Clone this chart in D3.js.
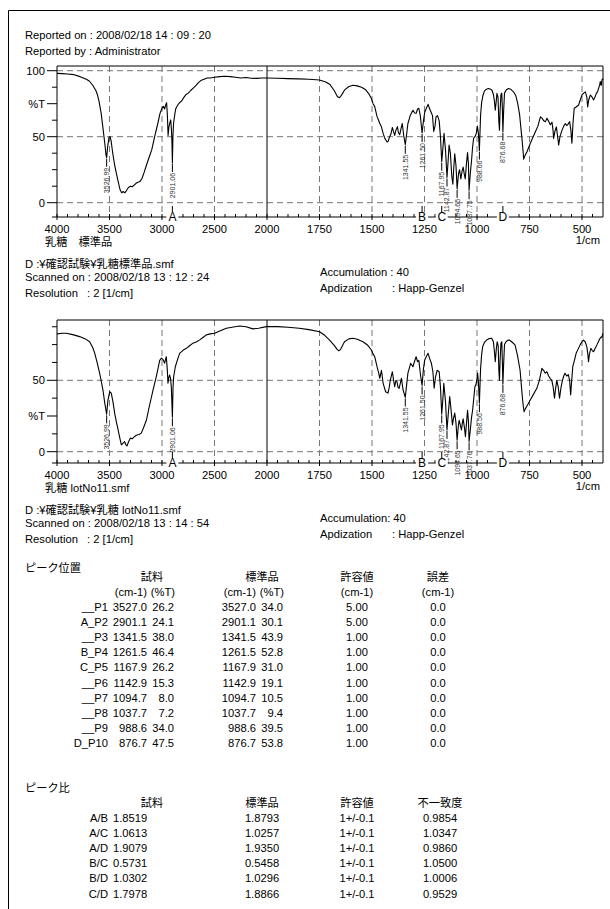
<!DOCTYPE html>
<html>
<head>
<meta charset="utf-8">
<script src="https://cdn.jsdelivr.net/npm/d3@7"></script>
<style>
  body { margin: 0; background: #fff; }
  text { font-family: "Liberation Sans", Arial, "Noto Sans CJK JP", sans-serif; fill: #000; }
</style>
</head>
<body>
<script>
// ---- data ----
const stdSpectrum = [
  [4000,98],[3950,97.8],[3900,97.5],[3838,97],[3780,95.5],[3720,93.5],[3690,92],[3660,89],[3630,85],
  [3616,82],[3600,77],[3580,68],[3560,55],[3545,45],[3533,36],[3527,34.0],[3518,42],[3505,49.5],[3495,50],
  [3485,47],[3470,38],[3450,28],[3420,17],[3400,10],[3384,7.5],[3370,8.5],[3355,7.5],[3340,9],[3320,11.5],
  [3300,12.5],[3285,12],[3270,13],[3250,14.5],[3230,15.5],[3210,16],[3190,18.5],[3170,23],[3150,28],
  [3120,35],[3098,40],[3070,50],[3040,60],[3019,67.7],[3000,71.5],[2987,73],[2975,71],[2965,74],[2956,75.7],
  [2948,65],[2942,51],[2935,57],[2927,60],[2917,62.7],[2910,55],[2905,45],[2901,30.1],[2896,50],[2890,60],
  [2880,66],[2870,71],[2850,74],[2830,76],[2813,77],[2790,80],[2770,82],[2750,83],[2727,85],[2700,87],
  [2680,88.5],[2653,91],[2630,92.5],[2600,93.5],[2570,94.5],[2540,94.5],[2500,95],[2450,95.5],[2400,95.8],
  [2350,95.5],[2300,95],[2250,94.5],[2200,94.8],[2150,94.3],[2100,94.2],[2050,94.5],[2000,94.5],[1950,94.3],
  [1900,94],[1850,93.8],[1800,93.5],[1750,93],[1720,91.5],[1700,89.5],[1680,85],[1665,80.5],[1655,79.5],
  [1645,81.5],[1630,85.5],[1610,88],[1590,89],[1570,88.5],[1550,87.5],[1530,85.5],[1515,82.5],[1503,79],
  [1495,75],[1487,72.8],[1476,65.2],[1470,63],[1463,60],[1455,57.5],[1447,52.5],[1439,48.7],[1428,46],
  [1423,46.5],[1416,50],[1410,52],[1403,57],[1398,54],[1392,51],[1386,55],[1379,57.6],[1374,53],[1368,51.5],
  [1362,56],[1356,60],[1349,51],[1341.5,43.9],[1335,52],[1329,60],[1318,66],[1310,68.5],[1305,70],[1297,68],
  [1290,67.7],[1283,71],[1277,71.5],[1270,66],[1261.5,52.8],[1255,62],[1249,68.5],[1240,72],[1233,74.5],
  [1225,71],[1217,68],[1212,66],[1206,54],[1200,58],[1195,65],[1188,66],[1180,62],[1174,50],[1167.9,31.0],
  [1162,42],[1157,52.5],[1150,40],[1142.9,19.1],[1137,33],[1133,43.7],[1127,38],[1120,20],[1115,14],
  [1110,28],[1106,37],[1100,28],[1094.7,10.5],[1088,22],[1083,25],[1077,18],[1071,24],[1066,27],[1061,22],
  [1056,18],[1050,30],[1045,38],[1041,30],[1037.7,9.4],[1032,22],[1026,32],[1021,42],[1016,49],[1010,50],
  [1004,52],[998,58],[993,52],[988.6,39.5],[983,66],[978,76],[972,81],[965,84.5],[955,86],[945,86.5],
  [935,86],[928,85],[922,82],[917,77],[913,70],[909,76],[905,82.8],[900,80],[896,62],[893,55],[890,70],
  [886,82],[882,83],[879,70],[876.7,53.8],[873,70],[869,83],[860,85.5],[850,86.5],[840,86],[826,84],
  [815,81],[806,75],[797,66.5],[790,55],[786,48.7],[780,38],[778,33],[772,35.5],[762,38.6],[746,45],
  [735,49],[722,53.8],[710,58],[698,65],[690,64],[682,62],[674,61.4],[667,64],[660,62],[651,59],[643,61],
  [638,55],[635,48.7],[629,54],[622,57.4],[616,50],[611,43.6],[605,50],[595,55],[587,58],[579,60],
  [573,58.5],[568,59],[559,61.4],[553,55],[548,45],[543,60],[537,71.5],[528,72.5],[516,74],[508,78],
  [500,81.6],[492,83],[484,84],[477,80],[473,72.5],[468,78],[460,81.6],[452,80],[445,77.8],[438,80],
  [432,82.8],[426,84],[421,86.6],[416,89],[413,91.7],[408,89],[405,93],[400,94]
];

const lotSpectrum = [
  [4000,82.5],[3950,83],[3911,83],[3850,82],[3784,80.6],[3730,79],[3689,77],[3660,73],[3641,69],[3620,63],
  [3594,55],[3575,48],[3562,43],[3545,34],[3527,26.2],[3515,36],[3498,42],[3483,41],[3465,34],[3451,27],
  [3435,21],[3419,15.6],[3400,9],[3387,4.7],[3370,6],[3356,7],[3345,5],[3334,4],[3318,7],[3302,9.5],
  [3285,9],[3270,10],[3245,11.5],[3220,12],[3197,13],[3175,17],[3149,22],[3120,32],[3086,43],[3050,54],
  [3022,64],[3005,65.5],[2990,64.5],[2975,62],[2959,66.5],[2950,58],[2943,48],[2935,52],[2927,53.7],
  [2918,51],[2911,45],[2901,24.1],[2895,45],[2889,52.5],[2873,59.5],[2850,65],[2832,68.9],[2800,71],
  [2768,72.4],[2740,74],[2705,76],[2670,77],[2641,78.3],[2610,80],[2578,81.8],[2540,82.5],[2498,83],
  [2450,84.5],[2387,86.4],[2320,87.3],[2260,88],[2200,87.5],[2133,86],[2080,86.5],[2006,87.6],[1950,87.6],
  [1900,87.2],[1847,86.4],[1800,85.5],[1750,84],[1725,81.5],[1702,78.2],[1680,74.5],[1665,71.5],[1658,70.7],
  [1650,71.5],[1631,77],[1610,79],[1591,79.4],[1570,78.8],[1543,77],[1520,74.5],[1503,71.2],[1495,68.5],
  [1487,66.5],[1476,59.5],[1468,55],[1463,51.4],[1455,57],[1447,47.9],[1435,42],[1424,41],[1418,45],
  [1413,50],[1403,56],[1397,50],[1392,45.5],[1386,50],[1381,49],[1376,45],[1371,44.4],[1365,48],[1360,51.4],
  [1352,43.2],[1341.5,38.0],[1335,47],[1329,55],[1316,61.9],[1305,59.5],[1298,63],[1290,66.5],[1283,63],
  [1277,64],[1269,53.7],[1261.5,46.4],[1255,58],[1249,64.2],[1240,67],[1233,68.9],[1225,65],[1217,61.9],
  [1210,56],[1204,44.4],[1198,52],[1190,57],[1180,56],[1174,45],[1167.9,26.2],[1162,38],[1158,47.9],
  [1150,35],[1142.9,15.3],[1136,28],[1130,38.6],[1124,30],[1117,18.8],[1111,24],[1106,27],[1100,20],
  [1094.7,8.0],[1089,18],[1085,22],[1080,19],[1074,15.2],[1070,20],[1066,23],[1060,17],[1055,10.5],
  [1050,20],[1045,29],[1041,22],[1037.7,7.2],[1032,15],[1026,24],[1021,29],[1015,38],[1010,45.5],[1005,47],
  [1002,49],[997,55],[993,48],[988.6,34.0],[983,58],[978,68],[973,73.6],[965,76.5],[954,78.2],[942,79.2],
  [930,79.4],[922,77],[917,70],[913,63],[908,72],[904,77],[899,74],[896,57],[893,50],[890,64],[886,76],
  [882,77],[879,62],[876.7,47.5],[873,62],[869,75],[864,76.5],[855,78],[846,78.2],[835,77],[819,74.8],
  [808,68],[795,57.2],[788,45],[782,35],[776,28],[770,30],[760,32.5],[747,36],[730,40.5],[715,44.4],
  [703,50],[691,58.4],[683,57],[675,55],[667,56],[659,53],[650,51],[644,50],[638,46],[631,37.4],[626,44],
  [620,50],[613,45],[607,37.4],[600,45],[593,50],[587,53],[581,55],[573,53],[565,54],[559,50],[554,39.8],
  [549,50],[544,59.5],[536,64],[528,68.9],[518,72],[509,74.8],[500,77],[493,78.2],[485,77],[477,73.6],
  [472,68],[469,63],[465,68],[458,72.4],[452,71],[445,70],[437,72.5],[429,74.8],[422,77],[414,79.4],
  [408,80.5],[405,80],[401,82.9]
];

const peakWn = [3527.0, 2901.1, 1341.5, 1261.5, 1167.9, 1142.9, 1094.7, 1037.7, 988.6, 876.7];
const stdPeakT = [34.0, 30.1, 43.9, 52.8, 31.0, 19.1, 10.5, 9.4, 39.5, 53.8];
const lotPeakT = [26.2, 24.1, 38.0, 46.4, 26.2, 15.3, 8.0, 7.2, 34.0, 47.5];
const stdPeakText = ["3526.99","2901.06","1341.55","1261.50","1167.95","1142.87","1094.65","1037.75","988.66","876.68"];
const lotPeakText = ["3526.99","2901.06","1341.55","1261.50","1167.95","1142.87","1094.65","1037.76","988.56","876.68"];

const markLetters = ["A", "B", "C", "D"];
const markWn = [2901.1, 1261.5, 1167.9, 876.7];

const xTickValues = [4000, 3500, 3000, 2500, 2000, 1750, 1500, 1250, 1000, 750, 500];
const xGridValues = [3500, 3000, 2500, 1750, 1500, 1250, 1000, 750, 500];

// peak table
const peakNames = ["__P1","A_P2","__P3","B_P4","C_P5","__P6","__P7","__P8","__P9","D_P10"];
const sampleCm = ["3527.0","2901.1","1341.5","1261.5","1167.9","1142.9","1094.7","1037.7","988.6","876.7"];
const sampleT = ["26.2","24.1","38.0","46.4","26.2","15.3","8.0","7.2","34.0","47.5"];
const standardCm = ["3527.0","2901.1","1341.5","1261.5","1167.9","1142.9","1094.7","1037.7","988.6","876.7"];
const standardT = ["34.0","30.1","43.9","52.8","31.0","19.1","10.5","9.4","39.5","53.8"];
const toleranceCm = ["5.00","5.00","1.00","1.00","1.00","1.00","1.00","1.00","1.00","1.00"];
const errorCm = ["0.0","0.0","0.0","0.0","0.0","0.0","0.0","0.0","0.0","0.0"];

// ratio table
const ratioNames = ["A/B","A/C","A/D","B/C","B/D","C/D"];
const ratioSample = ["1.8519","1.0613","1.9079","0.5731","1.0302","1.7978"];
const ratioStandard = ["1.8793","1.0257","1.9350","0.5458","1.0296","1.8866"];
const ratioTolerance = ["1+/-0.1","1+/-0.1","1+/-0.1","1+/-0.1","1+/-0.1","1+/-0.1"];
const ratioMismatch = ["0.9854","1.0347","0.9860","1.0500","1.0006","0.9529"];

// ---- drawing ----
const W = 610, H = 909;
const FS = 11.2;

const svg = d3.select('body').append('svg')
  .attr('width', W)
  .attr('height', H);

svg.append('rect').attr('width', W).attr('height', H).attr('fill', '#fff');

// page frame (only left and top edges fall inside the picture)
svg.append('path')
  .attr('d', `M8.5,${H} L8.5,10.5 L${W},10.5`)
  .attr('fill', 'none').attr('stroke', '#000').attr('stroke-width', 1);

function txt(x, y, s, opts = {}) {
  return svg.append('text')
    .attr('x', x).attr('y', y)
    .attr('font-size', opts.size || FS)
    .attr('text-anchor', opts.anchor || 'start')
    .text(s);
}

// wavenumber axis is compressed 2x above 2000 cm-1
const x = d3.scaleLinear().domain([4000, 2000, 400]).range([57, 267, 603]);

function drawSpectrum(cfg) {
  const y = d3.scaleLinear().domain([0, 50]).range([cfg.y0, cfg.y50]);
  const axisY = cfg.axisY;
  const g = svg.append('g');

  // grid
  g.selectAll('line.vgrid').data(xGridValues).join('line')
    .attr('x1', d => x(d)).attr('x2', d => x(d))
    .attr('y1', cfg.top).attr('y2', axisY)
    .attr('stroke', '#777').attr('stroke-dasharray', '6,4');
  g.selectAll('line.hgrid').data(cfg.hGrid).join('line')
    .attr('x1', x(4000)).attr('x2', x(400))
    .attr('y1', d => y(d)).attr('y2', d => y(d))
    .attr('stroke', '#777').attr('stroke-dasharray', '6,4');

  // frame
  g.append('line').attr('x1', x(2000)).attr('x2', x(2000)).attr('y1', cfg.top).attr('y2', axisY).attr('stroke', '#000');
  g.append('path')
    .attr('d', `M${x(4000)},${axisY} L${x(4000)},${cfg.top} L${x(400)},${cfg.top} L${x(400)},${axisY}`)
    .attr('fill', 'none').attr('stroke', '#000');

  // curve
  const line = d3.line().x(d => x(d[0])).y(d => y(d[1]));
  g.append('path').datum(cfg.data)
    .attr('d', line)
    .attr('fill', 'none').attr('stroke', '#000').attr('stroke-width', 1.1).attr('stroke-linejoin', 'round');

  // y ticks every 12.5 %T
  const yTicks = d3.range(0, cfg.yMax + 0.1, 12.5).concat([y.invert(axisY)]);
  g.selectAll('line.yt').data(yTicks).join('line')
    .attr('x1', d => cfg.yLabels[d] !== undefined ? x(4000) - 10 : x(4000) - 5)
    .attr('x2', x(4000))
    .attr('y1', d => y(d)).attr('y2', d => y(d))
    .attr('stroke', '#000');
  Object.keys(cfg.yLabels).forEach(k => {
    txt(x(4000) - 12, y(+k) + 4, cfg.yLabels[k], { anchor: 'end' });
  });

  // x axis
  g.append('line').attr('x1', x(4000)).attr('x2', x(400)).attr('y1', axisY).attr('y2', axisY).attr('stroke', '#000');
  const minor = d3.range(3900, 2000, -100).concat(d3.range(1950, 400, -50))
    .filter(d => !xTickValues.includes(d));
  g.selectAll('line.xm').data(minor).join('line')
    .attr('x1', d => x(d)).attr('x2', d => x(d))
    .attr('y1', axisY - 3).attr('y2', axisY).attr('stroke', '#000');
  g.selectAll('line.xM').data(xTickValues).join('line')
    .attr('x1', d => x(d)).attr('x2', d => x(d))
    .attr('y1', axisY - 3).attr('y2', axisY + 3).attr('stroke', '#000');
  xTickValues.forEach(v => txt(x(v), axisY + 15.5, String(v), { anchor: 'middle' }));
  txt(600, axisY + 27, '1/cm', { anchor: 'end' });

  // peak labels
  peakWn.forEach((wn, i) => {
    const px = x(wn), py = y(cfg.peakT[i]);
    g.append('line').attr('x1', px).attr('x2', px).attr('y1', py + 1).attr('y2', py + 9)
      .attr('stroke', '#000');
    g.append('text')
      .attr('transform', `translate(${px},${py + 10}) rotate(-90)`)
      .attr('text-anchor', 'end').attr('dy', '0.35em')
      .attr('font-size', 7).style('fill', '#333')
      .text(cfg.peakText[i]);
  });

  // A B C D markers on the axis
  markLetters.forEach((m, i) => {
    const mx = x(markWn[i]);
    g.append('rect').attr('x', mx - 6).attr('y', axisY - 4).attr('width', 12).attr('height', 8).attr('fill', '#fff');
    g.append('line').attr('x1', mx).attr('x2', mx).attr('y1', axisY - 11).attr('y2', axisY - 5).attr('stroke', '#000');
    txt(mx, axisY + 4, m, { anchor: 'middle', size: 12 });
  });

  return axisY;
}

// header
txt(25, 39, 'Reported on : 2008/02/18 14 : 09 : 20');
txt(25, 55, 'Reported by : Administrator');

function infoBlock(ax, sub, path, scanned, accum) {
  txt(45, ax + 29, sub);
  txt(25, ax + 51, path);
  txt(25, ax + 64, scanned);
  txt(25, ax + 80, 'Resolution');
  txt(87, ax + 80, ': 2 [1/cm]');
  txt(320, ax + 59, accum);
  txt(320, ax + 75, 'Apdization');
  txt(392, ax + 75, ': Happ-Genzel');
}

// spectrum 1: standard
const ax1 = drawSpectrum({
  data: stdSpectrum, top: 66, y0: 202.7, y50: 136.7, yMax: 100, axisY: 217,
  hGrid: [0, 50, 100], yLabels: { 100: '100', 75: '%T', 50: '50', 0: '0' },
  peakT: stdPeakT, peakText: stdPeakText
});
infoBlock(ax1, '乳糖　標準品', 'D :¥確認試験¥乳糖標準品.smf',
  'Scanned on : 2008/02/18 13 : 12 : 24', 'Accumulation : 40');

// spectrum 2: lot No11
const ax2 = drawSpectrum({
  data: lotSpectrum, top: 320, y0: 451.7, y50: 380.3, yMax: 87.5, axisY: 463,
  hGrid: [0, 50], yLabels: { 50: '50', 25: '%T', 0: '0' },
  peakT: lotPeakT, peakText: lotPeakText
});
infoBlock(ax2, '乳糖 lotNo11.smf', 'D :¥確認試験¥乳糖 lotNo11.smf',
  'Scanned on : 2008/02/18 13 : 14 : 54', 'Accumulation: 40');

// peak position table
const t1 = 572;
txt(25, t1, 'ピーク位置');
txt(152, t1 + 9, '試料', { anchor: 'middle' });
txt(262, t1 + 9, '標準品', { anchor: 'middle' });
txt(357, t1 + 9, '許容値', { anchor: 'middle' });
txt(438, t1 + 9, '誤差', { anchor: 'middle' });
txt(147, t1 + 24, '(cm-1)', { anchor: 'end' });
txt(175, t1 + 24, '(%T)', { anchor: 'end' });
txt(256, t1 + 24, '(cm-1)', { anchor: 'end' });
txt(284, t1 + 24, '(%T)', { anchor: 'end' });
txt(357, t1 + 24, '(cm-1)', { anchor: 'middle' });
txt(438, t1 + 24, '(cm-1)', { anchor: 'middle' });
peakNames.forEach((n, i) => {
  const yy = t1 + 39 + i * 15.1;
  txt(108, yy, n, { anchor: 'end' });
  txt(147, yy, sampleCm[i], { anchor: 'end' });
  txt(174, yy, sampleT[i], { anchor: 'end' });
  txt(256, yy, standardCm[i], { anchor: 'end' });
  txt(283, yy, standardT[i], { anchor: 'end' });
  txt(357, yy, toleranceCm[i], { anchor: 'middle' });
  txt(438, yy, errorCm[i], { anchor: 'middle' });
});

// peak ratio table
const t2 = 792;
txt(25, t2, 'ピーク比');
txt(152, t2 + 15, '試料', { anchor: 'middle' });
txt(262, t2 + 15, '標準品', { anchor: 'middle' });
txt(357, t2 + 15, '許容値', { anchor: 'middle' });
txt(440, t2 + 15, '不一致度', { anchor: 'middle' });
ratioNames.forEach((n, i) => {
  const yy = t2 + 30 + i * 15.1;
  txt(108, yy, n, { anchor: 'end' });
  txt(113, yy, ratioSample[i]);
  txt(262, yy, ratioStandard[i], { anchor: 'middle' });
  txt(357, yy, ratioTolerance[i], { anchor: 'middle' });
  txt(440, yy, ratioMismatch[i], { anchor: 'middle' });
});
</script>
</body>
</html>
